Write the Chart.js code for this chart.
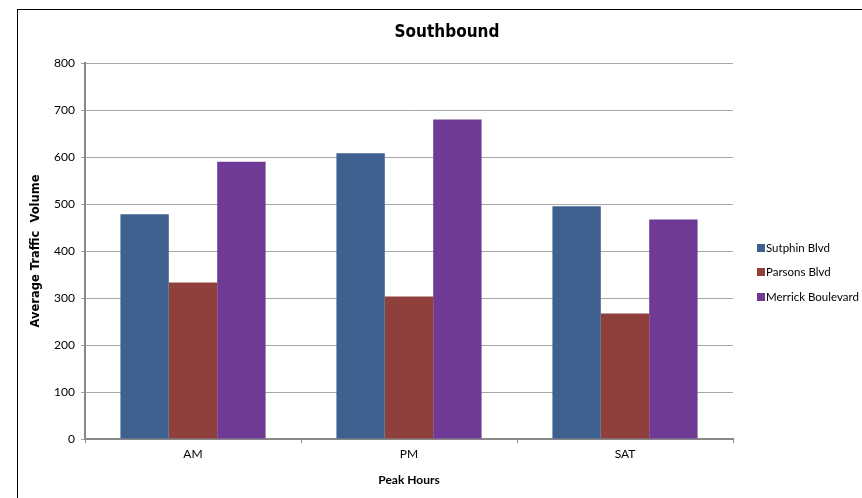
<!DOCTYPE html>
<html>
<head>
<meta charset="utf-8">
<script src="https://cdn.jsdelivr.net/npm/chart.js@4.4.1/dist/chart.umd.min.js"></script>
<style>
  html, body { margin: 0; padding: 0; background: #fff; }
  #wrap { position: relative; width: 862px; height: 498px; overflow: hidden; }
  #frame { position: absolute; left: 17px; top: 9px; width: 900px; height: 560px; border: 1.5px solid #000; box-sizing: border-box; pointer-events: none; }
  canvas { position: absolute; left: 0; top: 0; }
</style>
</head>
<body>
<div id="wrap">
  <canvas id="c" width="862" height="498"></canvas>
  <div id="frame"></div>
</div>
<script>
// Peak-hour traffic volumes, southbound
const categories = ['AM', 'PM', 'SAT'];
const sutphinBlvd = [478, 608, 495];
const parsonsBlvd = [333, 303, 267];
const merrickBoulevard = [590, 680, 467];
const seriesNames = ['Sutphin Blvd', 'Parsons Blvd', 'Merrick Boulevard'];
const seriesColors = ['#3F6190', '#8F403D', '#6E3A96'];
const yTicks = [0, 100, 200, 300, 400, 500, 600, 700, 800];
const chartTitle = 'Southbound';

const tickFont = { family: 'Lato, "Open Sans", sans-serif', size: 12 };
const gridGrey = '#A6A6A6';
const axisGrey = '#888888';

// Title centred over the framed area, legend at the right of the plot
const decorations = {
  id: 'decorations',
  afterDraw(chart) {
    const ctx = chart.ctx;
    ctx.save();
    ctx.fillStyle = '#000';
    ctx.font = 'bold 17px "DejaVu Sans Condensed", "DejaVu Sans", sans-serif';
    ctx.textAlign = 'center';
    ctx.textBaseline = 'middle';
    ctx.fillText(chartTitle, 447, 33);

    const rowsY = [248, 272, 297];
    ctx.font = '11.5px Lato, "Open Sans", sans-serif';
    ctx.textAlign = 'left';
    chart.data.datasets.forEach((ds, i) => {
      ctx.fillStyle = ds.backgroundColor;
      ctx.fillRect(757, rowsY[i] - 4, 8, 8);
      ctx.fillStyle = '#000';
      ctx.fillText(ds.label, 766, rowsY[i]);
    });
    ctx.restore();
  }
};

new Chart(document.getElementById('c'), {
  type: 'bar',
  data: {
    labels: categories,
    datasets: [
      { label: seriesNames[0], data: sutphinBlvd, backgroundColor: seriesColors[0] },
      { label: seriesNames[1], data: parsonsBlvd, backgroundColor: seriesColors[1] },
      { label: seriesNames[2], data: merrickBoulevard, backgroundColor: seriesColors[2] }
    ]
  },
  options: {
    responsive: false,
    animation: false,
    events: [],
    layout: { padding: { left: 29, right: 129, top: 63, bottom: 0 } },
    datasets: { bar: { categoryPercentage: 0.672, barPercentage: 1.0 } },
    plugins: {
      legend: { display: false },
      tooltip: { enabled: false },
      title: { display: false }
    },
    scales: {
      x: {
        grid: { display: true, drawOnChartArea: false, drawTicks: true, tickLength: 4, color: axisGrey, offset: true },
        border: { display: true, color: axisGrey, width: 2 },
        ticks: { color: '#000', font: tickFont, padding: 4 },
        title: {
          display: true,
          text: 'Peak Hours',
          color: '#000',
          font: { family: 'Lato, "Open Sans", sans-serif', size: 12, weight: 'bold' },
          padding: { top: 4, bottom: 11 }
        },
        afterFit(scale) { scale.height = 59; }
      },
      y: {
        min: 0,
        max: 800,
        afterBuildTicks(scale) { scale.ticks = yTicks.map(v => ({ value: v })); },
        grid: { color: gridGrey, lineWidth: 1, tickLength: 4 },
        border: { display: true, color: axisGrey, width: 2 },
        ticks: { color: '#000', font: tickFont, padding: 6 },
        title: {
          display: true,
          text: 'Average Traffic  Volume',
          color: '#000',
          font: { family: '"DejaVu Sans", sans-serif', size: 11.5, weight: 'bold' },
          padding: { top: 0, bottom: 4 }
        },
        afterFit(scale) { scale.width = 56; }
      }
    }
  },
  plugins: [decorations]
});
</script>
</body>
</html>
